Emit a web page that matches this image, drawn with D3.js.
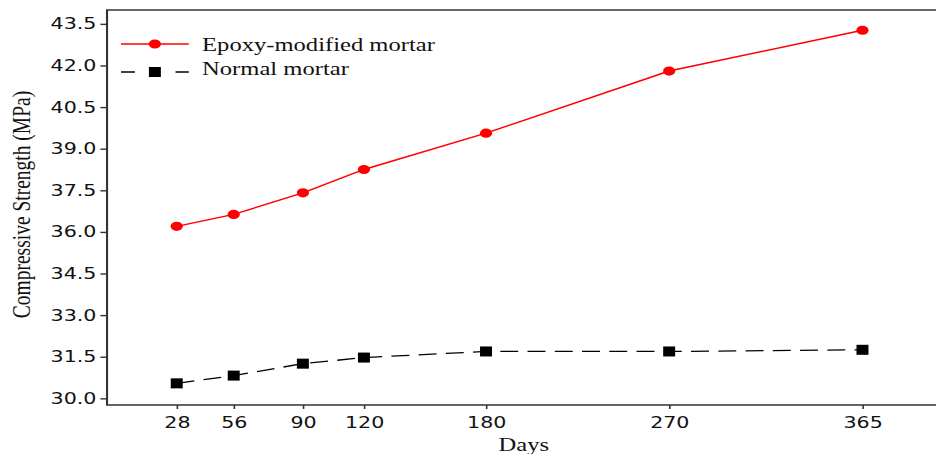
<!DOCTYPE html>
<html>
<head>
<meta charset="utf-8">
<script src="https://cdn.jsdelivr.net/npm/d3@7"></script>
<style>
  html, body { margin: 0; padding: 0; background: #fff; }
  svg { display: block; }
</style>
</head>
<body>
<div id="chart"></div>
<script>
// data
const days = [28, 56, 90, 120, 180, 270, 365];
const epoxyStrength = [36.20, 36.63, 37.41, 38.25, 39.56, 41.80, 43.27];
const normalStrength = [30.54, 30.82, 31.25, 31.47, 31.69, 31.69, 31.75];
const yTickValues = [30.0, 31.5, 33.0, 34.5, 36.0, 37.5, 39.0, 40.5, 42.0, 43.5];
const seriesNames = ['Epoxy-modified mortar', 'Normal mortar'];

// the reference looks horizontally stretched, so draw in a narrower box and stretch it
const outW = 936, outH = 454;
const W = 704, H = 454;

const svg = d3.select('#chart').append('svg')
  .attr('width', outW)
  .attr('height', outH)
  .attr('viewBox', `0 0 ${W} ${H}`)
  .attr('preserveAspectRatio', 'none');

const plotLeft = 80.5, plotTop = 10, plotBottom = 405, plotRight = W + 5;

const x = d3.scaleLinear().domain([-6.25, 402]).range([plotLeft, plotLeft + 408.25 * 1.5305]);
const y = d3.scaleLinear().domain([29.76, 44.0]).range([plotBottom, plotTop]);

// frame (left, top, bottom; right side runs off the page)
svg.append('path')
  .attr('d', `M${plotRight},${plotTop}H${plotLeft}V${plotBottom}H${plotRight}`)
  .attr('fill', 'none')
  .attr('stroke', '#333')
  .attr('stroke-width', 1.6);

// y axis
svg.append('g')
  .attr('transform', `translate(${plotLeft},0)`)
  .call(d3.axisLeft(y).tickValues(yTickValues).tickFormat(d3.format('.1f')).tickSize(5).tickPadding(3))
  .call(g => {
    g.select('.domain').remove();
    g.selectAll('.tick line').attr('stroke', '#333').attr('stroke-width', 1.4);
    g.selectAll('.tick text')
      .attr('fill', '#111')
      .style('font-family', '"DejaVu Sans", Verdana, sans-serif')
      .style('font-size', '15.5px');
  });

// x axis
svg.append('g')
  .attr('transform', `translate(0,${plotBottom})`)
  .call(d3.axisBottom(x).tickValues(days).tickFormat(d3.format('d')).tickSize(4).tickPadding(8))
  .call(g => {
    g.select('.domain').remove();
    g.selectAll('.tick line').attr('stroke', '#333').attr('stroke-width', 1.2);
    g.selectAll('.tick text')
      .attr('fill', '#111')
      .style('font-family', '"DejaVu Sans", Verdana, sans-serif')
      .style('font-size', '15.5px');
  });

// axis titles
svg.append('text')
  .attr('transform', `translate(22.5,204.5) rotate(-90)`)
  .attr('text-anchor', 'middle')
  .attr('fill', '#111')
  .style('font-family', '"Liberation Serif", "Times New Roman", serif')
  .style('font-size', '19.5px')
  .text('Compressive Strength (MPa)');

svg.append('text')
  .attr('x', 394)
  .attr('y', 451)
  .attr('text-anchor', 'middle')
  .attr('fill', '#111')
  .style('font-family', '"Liberation Serif", "Times New Roman", serif')
  .style('font-size', '18.5px')
  .text('Days');

const line = d3.line().x(d => x(d[0])).y(d => y(d[1]));
const epoxyPts = days.map((d, i) => [d, epoxyStrength[i]]);
const normalPts = days.map((d, i) => [d, normalStrength[i]]);

// normal mortar: dashed black with squares
svg.append('path')
  .datum(normalPts)
  .attr('d', line)
  .attr('fill', 'none')
  .attr('stroke', '#000')
  .attr('stroke-width', 1.3)
  .attr('stroke-dasharray', '13.5,7');

svg.append('g').selectAll('rect')
  .data(normalPts)
  .enter().append('rect')
  .attr('x', d => x(d[0]) - 4.5)
  .attr('y', d => y(d[1]) - 5)
  .attr('width', 9)
  .attr('height', 10)
  .attr('fill', '#000');

// epoxy-modified mortar: solid red with circles
svg.append('path')
  .datum(epoxyPts)
  .attr('d', line)
  .attr('fill', 'none')
  .attr('stroke', '#ff0000')
  .attr('stroke-width', 1.4);

svg.append('g').selectAll('circle')
  .data(epoxyPts)
  .enter().append('circle')
  .attr('cx', d => x(d[0]))
  .attr('cy', d => y(d[1]))
  .attr('r', 4.6)
  .attr('fill', '#ff0000');

// legend
const legend = svg.append('g');
const lgX0 = 91, lgX1 = 142, lgMid = 116.5;

legend.append('line')
  .attr('x1', lgX0).attr('x2', lgX1).attr('y1', 44).attr('y2', 44)
  .attr('stroke', '#ff0000').attr('stroke-width', 1.4);
legend.append('circle')
  .attr('cx', lgMid).attr('cy', 44).attr('r', 4.6).attr('fill', '#ff0000');

legend.append('line')
  .attr('x1', lgX0).attr('x2', lgX1).attr('y1', 72).attr('y2', 72)
  .attr('stroke', '#000').attr('stroke-width', 1.3)
  .attr('stroke-dasharray', '10.5,30.5,10.5');
legend.append('rect')
  .attr('x', lgMid - 4.5).attr('y', 67).attr('width', 9).attr('height', 10).attr('fill', '#000');

legend.selectAll('text')
  .data(seriesNames)
  .enter().append('text')
  .attr('x', 152)
  .attr('y', (d, i) => 51 + i * 24)
  .attr('fill', '#111')
  .style('font-family', '"Liberation Serif", "Times New Roman", serif')
  .style('font-size', '18.5px')
  .text(d => d);
</script>
</body>
</html>
